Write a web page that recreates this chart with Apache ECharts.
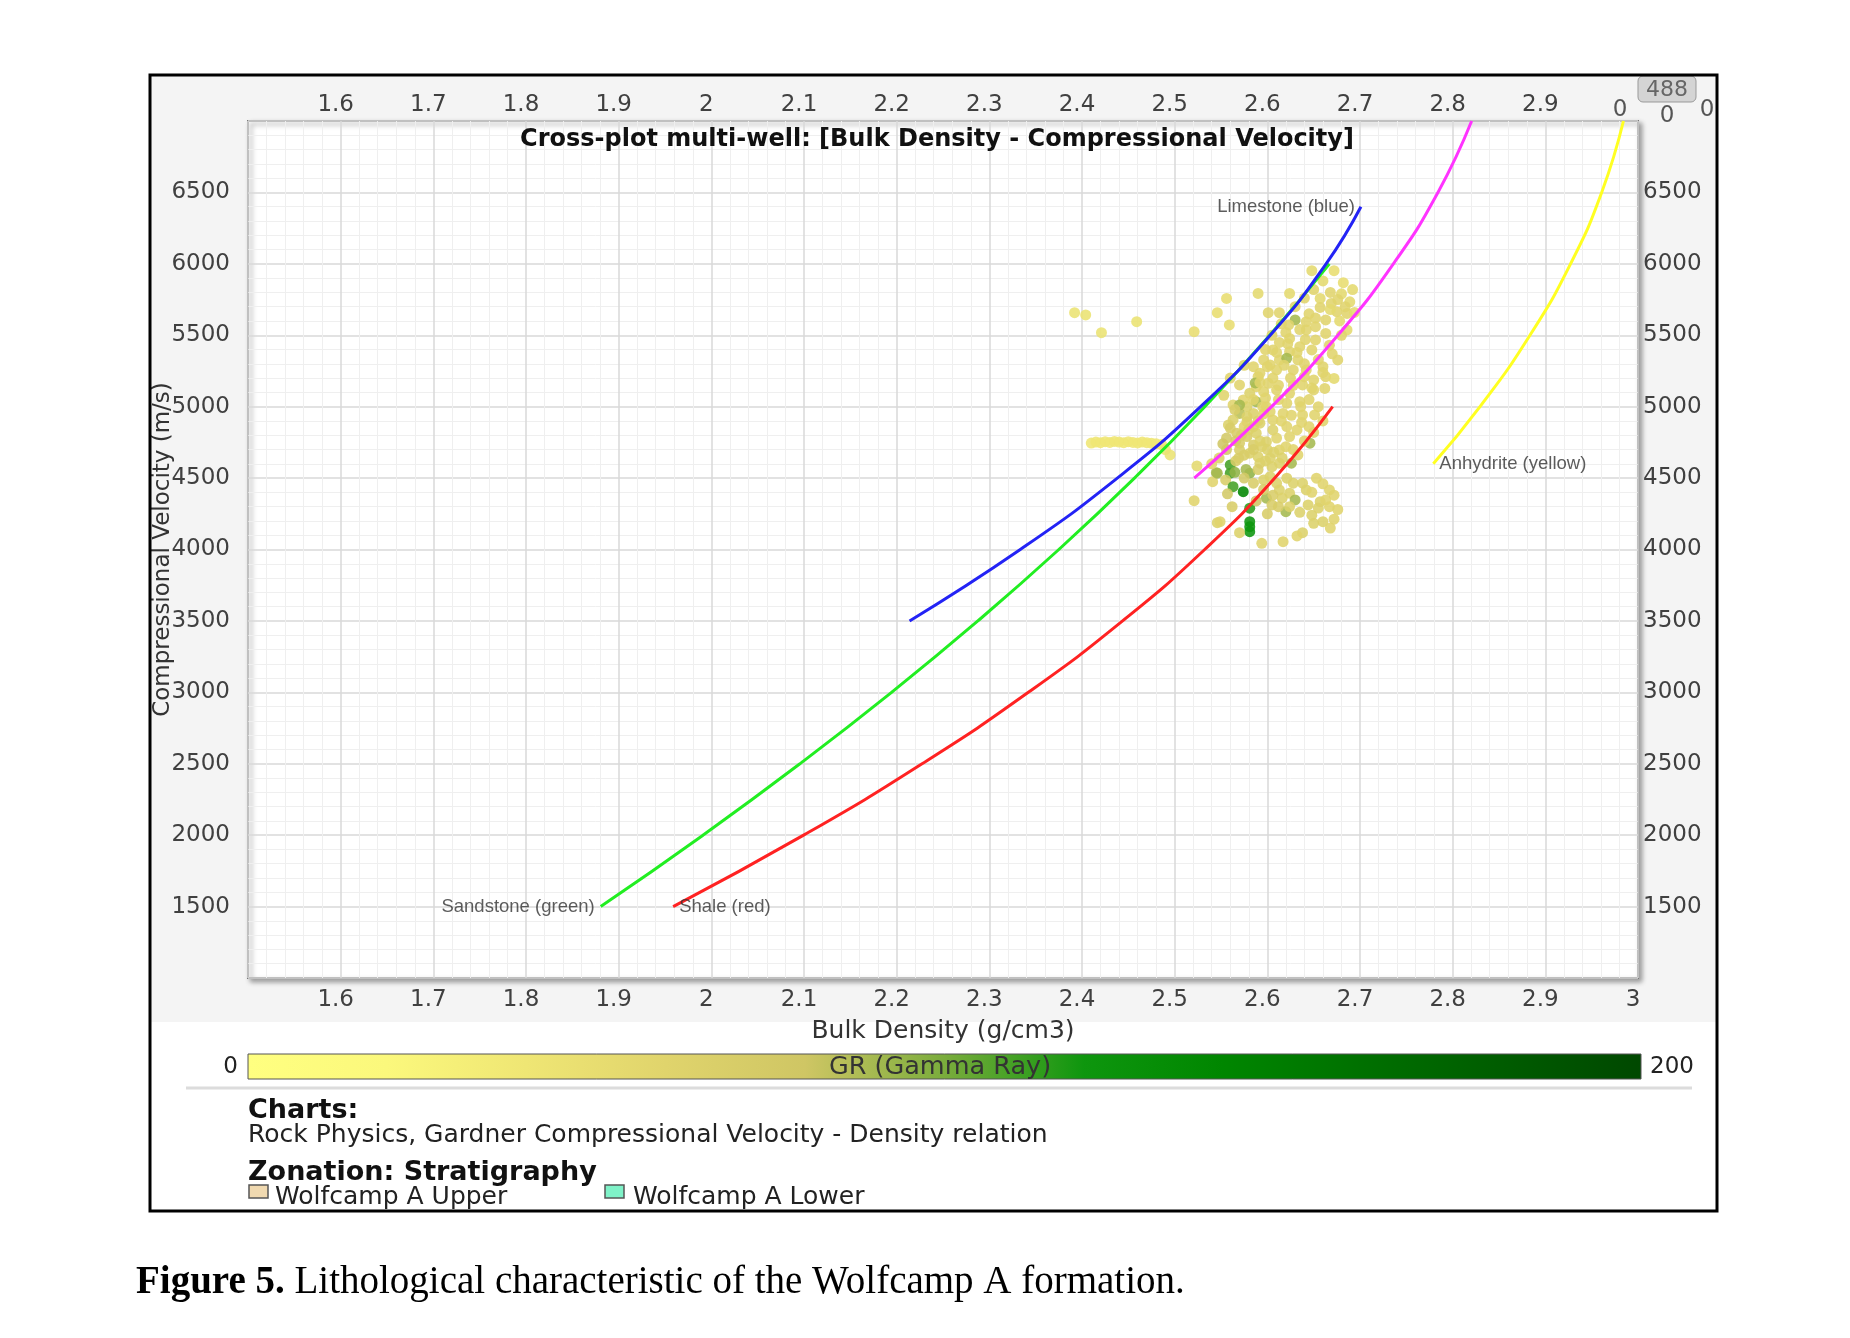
<!DOCTYPE html>
<html><head><meta charset="utf-8">
<script src="https://cdn.jsdelivr.net/npm/echarts@6/dist/echarts.min.js"></script>
<style>html,body{margin:0;padding:0;background:#fff}#c{width:1850px;height:1338px}</style>
</head><body><div id="c"></div>
<script>
// ---- Curve data: [bulk density g/cm3, Vp m/s] ----
const sandstone = [[1.8806,1500],[1.991,2000],[2.0956,2500],[2.1945,3000],[2.2876,3500],[2.375,4000],[2.4566,4500],[2.5325,5000],[2.6026,5500],[2.667,6000]];
const shale = [[1.9588,1500],[2.0996,2000],[2.2274,2500],[2.3421,3000],[2.4438,3500],[2.5324,4000],[2.608,4500],[2.6705,5000]];
const limestone = [[2.2139,3500],[2.3334,4000],[2.4381,4500],[2.528,5000],[2.6031,5500],[2.6634,6000],[2.701,6400]];
const dolomite = [[2.5211,4500],[2.6045,5000],[2.6761,5500],[2.736,6000],[2.7841,6500],[2.8205,7000]];
const anhydrite = [[2.7791,4600],[2.8295,5000],[2.8834,5500],[2.9272,6000],[2.9608,6500],[2.9843,7000]];
const curveLabels = ['Sandstone (green)','Shale (red)','Limestone (blue)','Anhydrite (yellow)'];

// ---- Well points: [density, Vp, GR] ----
const points = [
[2.392,5658,45],[2.404,5642,45],[2.421,5518,45],[2.459,5595,45],[2.521,5525,50],[2.546,5658,50],[2.556,5758,50],[2.559,5572,50],
[2.410,4745,40],[2.415,4752,40],[2.420,4748,40],[2.425,4755,40],[2.430,4750,40],[2.435,4757,40],[2.440,4752,40],[2.445,4748,40],
[2.450,4755,40],[2.455,4750,40],[2.460,4746,40],[2.465,4752,40],[2.470,4748,40],[2.475,4744,40],[2.480,4740,40],[2.486,4735,40],
[2.490,4700,45],[2.495,4662,45],
[2.524,4585,55],[2.545,4538,90],[2.541,4475,60],[2.521,4342,60],[2.546,4188,65],
[2.648,5952,55],[2.672,5952,50],[2.682,5868,50],[2.590,5793,55],[2.624,5793,55],[2.601,5658,60],[2.613,5658,60],[2.630,5607,90],
[2.623,5572,60],[2.642,5595,60],[2.657,5758,55],[2.657,5695,60],[2.669,5723,60],[2.675,5665,60],[2.689,5734,55],[2.686,5653,60],
[2.642,5537,60],[2.663,5607,60],[2.663,5513,60],[2.686,5537,55],[2.652,5467,60],[2.624,5478,60],[2.635,5420,60],[2.648,5397,60],
[2.624,5385,60],[2.613,5327,60],[2.621,5339,90],[2.633,5327,60],[2.603,5292,60],[2.596,5327,60],[2.585,5280,60],[2.592,5234,60],
[2.610,5257,60],[2.628,5257,60],[2.642,5257,60],[2.660,5280,60],[2.676,5327,60],[2.663,5210,60],[2.650,5187,60],[2.672,5198,55],
[2.590,5210,60],[2.601,5164,60],[2.588,5140,60],[2.581,5094,65],[2.570,5152,60],[2.596,5105,60],[2.610,5117,60],[2.624,5094,60],
[2.638,5152,60],[2.650,5117,60],[2.662,5128,60],[2.635,5035,60],[2.621,5024,60],[2.574,5047,60],[2.563,5012,60],[2.578,5000,65],
[2.588,5035,90],[2.599,5000,60],[2.570,4953,85],[2.585,4953,65],[2.603,4965,60],[2.617,4953,60],[2.638,4942,60],[2.651,4942,60],
[2.563,4907,65],[2.558,4872,65],[2.578,4895,65],[2.592,4884,65],[2.606,4907,60],[2.567,4814,70],[2.578,4791,70],[2.588,4814,65],
[2.606,4837,65],[2.621,4861,60],[2.632,4837,60],[2.646,4744,90],[2.624,4791,60],[2.570,4744,70],[2.585,4732,70],[2.599,4755,65],
[2.560,4592,110],[2.560,4534,110],[2.546,4534,90],[2.569,4639,70],[2.570,4697,70],[2.581,4534,95],[2.581,4674,65],[2.594,4720,65],
[2.592,4604,65],[2.603,4639,65],[2.613,4697,60],[2.613,4604,65],[2.626,4604,90],[2.633,4662,60],[2.555,4487,70],[2.563,4440,110],
[2.574,4405,140],[2.585,4464,70],[2.596,4487,65],[2.603,4510,65],[2.610,4464,65],[2.621,4499,65],[2.628,4464,65],[2.638,4464,65],
[2.653,4499,60],[2.642,4417,65],[2.613,4417,65],[2.624,4394,65],[2.667,4417,60],[2.599,4359,90],[2.605,4312,70],[2.616,4359,65],
[2.630,4347,90],[2.644,4312,65],[2.657,4335,65],[2.663,4347,60],[2.667,4300,60],[2.581,4289,115],[2.620,4265,90],[2.624,4300,65],
[2.581,4195,120],[2.581,4160,120],[2.581,4125,120],[2.549,4195,60],[2.570,4118,65],[2.594,4043,60],[2.617,4055,60],[2.638,4118,65],
[2.650,4183,65],[2.660,4195,65],[2.672,4212,60],[2.632,4095,60],[2.587,5166,90],[2.570,5012,90],[2.606,5397,60],
[2.575,4860,60],[2.596,4950,60],[2.612,5050,60],[2.628,5150,60],[2.640,5210,60],[2.655,5330,60],[2.667,5430,60],[2.678,5600,55],
[2.600,4700,65],[2.590,4650,65],[2.620,4720,60],[2.585,4860,65],[2.598,5060,60],[2.606,5200,60],[2.618,5290,60],[2.641,5470,60],
[2.652,5560,60],[2.668,5680,55],[2.680,5790,55],[2.566,4760,75],[2.556,4700,75],[2.548,4640,65],[2.540,4600,60],[2.605,4580,65],
[2.577,4560,90],[2.610,4780,60],[2.637,4890,60],[2.645,5050,60],[2.615,4900,60],[2.578,4930,65],[2.592,5170,60],[2.632,5380,60],
[2.613,5450,60],[2.598,5400,60],[2.645,5650,60],[2.620,5520,60],[2.575,5290,60],[2.560,5200,60],[2.553,5080,60],[2.565,4980,70],
[2.566,4620,70],[2.575,4660,70],[2.585,4700,70],[2.592,4760,65],[2.572,4800,70],[2.580,4840,65],[2.590,4900,65],[2.560,4850,70],
[2.556,4780,75],[2.552,4740,80],[2.565,4540,95],[2.575,4500,75],[2.590,4560,70],[2.598,4620,65],[2.607,4680,65],[2.616,4640,65],
[2.628,4700,60],[2.640,4760,60],[2.650,4820,60],[2.596,4420,70],[2.606,4380,70],[2.588,4340,80],[2.612,4300,70],[2.635,4260,65],
[2.648,4240,65],[2.600,4250,70],[2.562,4300,70],[2.557,4390,75],
[2.630,5700,60],[2.640,5760,60],[2.650,5820,60],[2.660,5880,55],[2.668,5800,60],[2.676,5750,60],[2.684,5700,60],[2.692,5820,55],
[2.694,5660,55],[2.680,5500,60],[2.670,5370,60],[2.660,5240,60],[2.648,5130,60],[2.636,5000,60],[2.626,4940,60],[2.655,5000,60],
[2.660,4900,60],[2.625,5200,60],[2.612,5150,60],[2.600,5280,60],[2.610,5380,60],[2.622,5440,60],[2.635,5540,60],[2.652,5620,60],
[2.615,5580,60],[2.605,5500,60],[2.640,5300,60],[2.595,5000,60],[2.585,5050,60],[2.645,4860,60],
[2.660,4460,60],[2.672,4380,60],[2.676,4280,60],[2.668,4150,60],[2.655,4290,65],[2.648,4400,60]
];

// ---- GR colour scale (0..200), evenly spaced stops ----
const grColors = ['#ffff80','#fbf87c','#efe674','#e0d46c','#cfc664','#7aac3c','#0e960e','#008600','#007000','#005c00','#004800'];
const grRange = [0, 200];

// ---- Tick labels ----
const xBottomLabels = ['1.6','1.7','1.8','1.9','2','2.1','2.2','2.3','2.4','2.5','2.6','2.7','2.8','2.9','3'];
const xTopLabels = ['1.6','1.7','1.8','1.9','2','2.1','2.2','2.3','2.4','2.5','2.6','2.7','2.8','2.9'];
const yLabels = ['1500','2000','2500','3000','3500','4000','4500','5000','5500','6000','6500'];

const chart = echarts.init(document.getElementById('c'), null, {renderer:'canvas'});
const tickFont = {fontFamily:'DejaVu Sans', fontSize:23, color:'#404040'};
function xfmt(list){ return v => { const s = String(Math.round(v*10)/10); return list.indexOf(s) >= 0 ? s : ''; }; }
function yfmt(v){ const s = String(Math.round(v)); return yLabels.indexOf(s) >= 0 ? s : ''; }
const majorLine = {show:true, lineStyle:{color:'#d9d9d9', width:1.5}};
const minorLine = {show:true, lineStyle:{color:'#efefef', width:1}};

const stops = grColors.map((c,i)=>({offset:i/(grColors.length-1), color:c}));

const option = {
  backgroundColor:'#ffffff',
  animation:false,
  title:{
    text:'Cross-plot multi-well: [Bulk Density - Compressional Velocity]',
    left:937, top:128, textAlign:'center', padding:0,
    textStyle:{fontFamily:'DejaVu Sans', fontWeight:'bold', fontSize:24, color:'#111'}
  },
  grid:{left:248, top:121, width:1390, height:857, show:true, backgroundColor:'#ffffff',
        borderColor:'#7a7a7a', borderWidth:2, shadowColor:'rgba(0,0,0,0.35)', shadowBlur:5, shadowOffsetX:3, shadowOffsetY:3},
  xAxis:[
    {type:'value', position:'bottom', min:1.5, max:3.0, interval:0.1,
     name:'Bulk Density (g/cm3)', nameLocation:'middle', nameGap:53,
     nameTextStyle:{fontFamily:'DejaVu Sans', fontSize:25, color:'#333', verticalAlign:'middle'},
     axisLine:{show:false}, axisTick:{show:false},
     axisLabel:Object.assign({margin:11, formatter:xfmt(xBottomLabels), padding:[0,10,0,0]}, tickFont),
     splitLine:majorLine, minorTick:{show:true, splitNumber:5, length:0}, minorSplitLine:minorLine},
    {type:'value', position:'top', min:1.5, max:3.0, interval:0.1,
     axisLine:{show:false}, axisTick:{show:false},
     axisLabel:Object.assign({margin:4, formatter:xfmt(xTopLabels), padding:[0,10,0,0]}, tickFont),
     splitLine:{show:false}}
  ],
  yAxis:[
    {type:'value', position:'left', min:1000, max:7000, interval:500,
     name:'Compressional Velocity (m/s)', nameLocation:'middle', nameGap:85, nameRotate:90, nameMoveOverlap:false,
     nameTextStyle:{fontFamily:'DejaVu Sans', fontSize:23, color:'#333', verticalAlign:'middle'},
     axisLine:{show:false}, axisTick:{show:false},
     axisLabel:Object.assign({margin:18, formatter:yfmt}, tickFont),
     splitLine:majorLine, minorTick:{show:true, splitNumber:5, length:0}, minorSplitLine:minorLine},
    {type:'value', position:'right', min:1000, max:7000, interval:500,
     axisLine:{show:false}, axisTick:{show:false},
     axisLabel:Object.assign({margin:5, formatter:yfmt}, tickFont),
     splitLine:{show:false}}
  ],
  visualMap:{type:'continuous', show:false, min:grRange[0], max:grRange[1], dimension:2, seriesIndex:0,
             inRange:{color:grColors}},
  series:[
    {type:'scatter', name:'Wells', data:points, symbolSize:11, itemStyle:{opacity:0.88}, z:2},
    {type:'line', name:'Sandstone', data:sandstone, smooth:true, showSymbol:false, lineStyle:{color:'#22ee22', width:3}, z:3},
    {type:'line', name:'Shale', data:shale, smooth:true, showSymbol:false, lineStyle:{color:'#ff2222', width:3}, z:3},
    {type:'line', name:'Limestone', data:limestone, smooth:true, showSymbol:false, lineStyle:{color:'#2323f5', width:3}, z:4},
    {type:'line', name:'Dolomite', data:dolomite, smooth:true, showSymbol:false, clip:true, lineStyle:{color:'#ff33ff', width:3}, z:3},
    {type:'line', name:'Anhydrite', data:anhydrite, smooth:true, showSymbol:false, clip:true, lineStyle:{color:'#ffff22', width:3}, z:3},
    {type:'scatter', name:'labels', symbolSize:2, itemStyle:{color:'rgba(0,0,0,0)'}, z:5,
     data:[
       {value:sandstone[0], label:{position:'left'}},
       {value:shale[0], label:{position:'right'}},
       {value:limestone[limestone.length-1], label:{position:'left'}},
       {value:anhydrite[0], label:{position:'right'}}
     ],
     label:{show:true, distance:5, formatter:p=>curveLabels[p.dataIndex], fontFamily:'Liberation Sans', fontSize:18.5, color:'#333'}}
  ],
  graphic:[
    {type:'rect', z:-100, shape:{x:151, y:76, width:1565, height:946}, style:{fill:'#f4f4f4'}},
    {type:'rect', z:100, shape:{x:150, y:75, width:1567, height:1136}, style:{fill:'none', stroke:'#000', lineWidth:3}},
    // colour bar
    {type:'rect', shape:{x:248, y:1054, width:1393, height:25}, style:{fill:new echarts.graphic.LinearGradient(0,0,1,0,stops), stroke:'#555', lineWidth:1}},
    {type:'text', x:940, y:1067, style:{text:'GR (Gamma Ray)', fontFamily:'DejaVu Sans', fontSize:25.5, fill:'#333', align:'center', verticalAlign:'middle'}},
    {type:'text', x:238, y:1067, style:{text:String(grRange[0]), fontFamily:'DejaVu Sans', fontSize:23, fill:'#222', align:'right', verticalAlign:'middle'}},
    {type:'text', x:1650, y:1067, style:{text:String(grRange[1]), fontFamily:'DejaVu Sans', fontSize:23, fill:'#222', align:'left', verticalAlign:'middle'}},
    {type:'line', shape:{x1:186, y1:1088, x2:1692, y2:1088}, style:{stroke:'#dcdcdc', lineWidth:3}},
    // notes
    {type:'text', x:248, y:1111, style:{text:'Charts:', fontFamily:'DejaVu Sans', fontWeight:'bold', fontSize:27, fill:'#111', align:'left', verticalAlign:'middle'}},
    {type:'text', x:248, y:1135, style:{text:'Rock Physics, Gardner Compressional Velocity - Density relation', fontFamily:'DejaVu Sans', fontSize:25, fill:'#222', align:'left', verticalAlign:'middle'}},
    {type:'text', x:248, y:1173, style:{text:'Zonation: Stratigraphy', fontFamily:'DejaVu Sans', fontWeight:'bold', fontSize:27, fill:'#111', align:'left', verticalAlign:'middle'}},
    {type:'rect', shape:{x:249, y:1185, width:19, height:13}, style:{fill:'#f0d9b0', stroke:'#555', lineWidth:1.5}},
    {type:'text', x:275, y:1197, style:{text:'Wolfcamp A Upper', fontFamily:'DejaVu Sans', fontSize:25, fill:'#222', align:'left', verticalAlign:'middle'}},
    {type:'rect', shape:{x:605, y:1185, width:19, height:13}, style:{fill:'#7ff2c8', stroke:'#555', lineWidth:1.5}},
    {type:'text', x:633, y:1197, style:{text:'Wolfcamp A Lower', fontFamily:'DejaVu Sans', fontSize:25, fill:'#222', align:'left', verticalAlign:'middle'}},
    // top-right clutter
    {type:'text', x:1620, y:110, style:{text:'0', fontFamily:'DejaVu Sans', fontSize:23, fill:'#555', align:'center', verticalAlign:'middle'}},
    {type:'rect', shape:{x:1638, y:76, width:58, height:26, r:5}, style:{fill:'#d4d4d4', stroke:'#999', lineWidth:1}},
    {type:'text', x:1667, y:90, style:{text:'488', fontFamily:'DejaVu Sans', fontSize:22, fill:'#666', align:'center', verticalAlign:'middle'}},
    {type:'text', x:1667, y:116, style:{text:'0', fontFamily:'DejaVu Sans', fontSize:23, fill:'#555', align:'center', verticalAlign:'middle'}},
    {type:'text', x:1707, y:110, style:{text:'0', fontFamily:'DejaVu Sans', fontSize:23, fill:'#555', align:'center', verticalAlign:'middle'}},
    // caption
    {type:'text', x:136, y:1283, style:{
      text:'{b|Figure 5.} Lithological characteristic of the Wolfcamp A formation.',
      rich:{b:{fontFamily:'Liberation Serif', fontWeight:'bold', fontSize:39, fill:'#000'}},
      fontFamily:'Liberation Serif', fontSize:39, fill:'#000', align:'left', verticalAlign:'middle'}}
  ]
};
chart.setOption(option);
</script></body></html>
